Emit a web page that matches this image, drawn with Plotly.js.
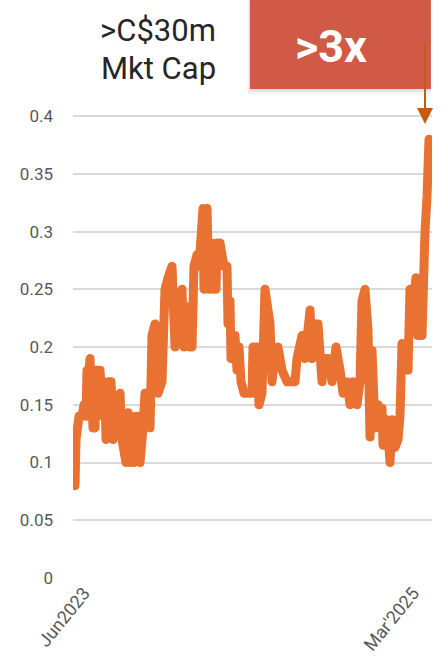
<!DOCTYPE html>
<html>
<head>
<meta charset="utf-8">
<script src="https://cdn.plot.ly/plotly-3.0.1.min.js"></script>
<style>
html,body{margin:0;padding:0;background:#fff;}
#chart{width:448px;height:671px;}
.js-line{stroke-linejoin:round;stroke-linecap:round;}
</style>
</head>
<body>
<div id="chart"></div>
<script>
// time index (approx. 1.86 calendar days per step from Jun 2023)
var tIndex = [0,2,3,6,9,11,13,14,15,17,18,20,22,23,27,28,30,32,33,35,38,39,40,43,45,47,49,51,53,55,57,59,61,64,66,67,70,72,75,77,79,82,84,85,89,92,95,99,102,105,107,109,111,113,115,117,119,121,124,126,128,130,131,133,134,136,139,141,143,144,147,149,151,154,155,157,158,160,162,164,166,168,171,174,177,179,180,184,186,189,192,195,197,199,202,205,209,214,219,222,224,227,229,232,234,237,239,242,245,247,249,250,255,259,263,267,270,274,277,280,284,287,289,292,295,297,299,302,305,307,309,310,314,317,319,322,325,327,329,332,335,337,340,343,345,349,350,352,354,356];
var price  = [0.09,0.08,0.12,0.14,0.14,0.15,0.14,0.18,0.17,0.19,0.13,0.13,0.13,0.18,0.18,0.14,0.14,0.16,0.12,0.17,0.17,0.15,0.12,0.14,0.16,0.16,0.12,0.10,0.10,0.143,0.10,0.14,0.10,0.14,0.12,0.10,0.13,0.16,0.16,0.13,0.21,0.22,0.18,0.16,0.17,0.25,0.26,0.27,0.20,0.23,0.21,0.25,0.20,0.23,0.235,0.20,0.20,0.27,0.28,0.27,0.31,0.32,0.25,0.30,0.32,0.25,0.29,0.25,0.25,0.29,0.29,0.28,0.27,0.27,0.22,0.24,0.19,0.21,0.21,0.18,0.20,0.17,0.16,0.16,0.16,0.16,0.20,0.20,0.15,0.16,0.25,0.23,0.22,0.17,0.195,0.20,0.18,0.17,0.17,0.17,0.19,0.20,0.21,0.19,0.21,0.232,0.19,0.22,0.22,0.19,0.17,0.19,0.19,0.17,0.20,0.18,0.16,0.17,0.15,0.17,0.15,0.17,0.24,0.25,0.215,0.122,0.197,0.13,0.15,0.13,0.147,0.115,0.137,0.10,0.137,0.113,0.12,0.14,0.203,0.20,0.18,0.25,0.235,0.26,0.21,0.21,0.28,0.30,0.33,0.38];
var xTickVals = [11, 340];
var xTickText = ["Jun2023", "Mar'2025"];
var yTickVals = [0,0.05,0.1,0.15,0.2,0.25,0.3,0.35,0.4];
var yTickText = ["0","0.05","0.1","0.15","0.2","0.25","0.3","0.35","0.4"];
var titleLines = [">C$30m", "Mkt Cap"];
var badgeText = ">3x";

var trace = {
  x: tIndex, y: price, type: 'scatter', mode: 'lines',
  line: {color: '#E97132', width: 9},
  hoverinfo: 'skip', showlegend: false
};

var layout = {
  width: 448, height: 671,
  margin: {l: 73, r: 16, t: 93, b: 93},
  paper_bgcolor: '#ffffff', plot_bgcolor: '#ffffff',
  font: {family: 'Roboto, Arial, sans-serif', color: '#595959', size: 17},
  xaxis: {
    range: [0, 359], showgrid: false, zeroline: false, showline: false,
    tickmode: 'array', tickvals: xTickVals, ticktext: xTickText,
    tickangle: -51, ticks: '', tickfont: {size: 18, color: '#595959'},
    fixedrange: true
  },
  yaxis: {
    range: [0, 0.42], showgrid: true, gridcolor: '#d9d9d9', gridwidth: 2,
    zeroline: false, showline: false,
    tickmode: 'array', tickvals: yTickVals, ticktext: yTickText,
    ticks: '', ticklabelstandoff: 19, tickfont: {size: 17, color: '#595959'},
    fixedrange: true
  },
  shapes: [
    {type: 'rect', xref: 'paper', yref: 'paper', x0: 0.486, x1: 0.995, y0: 0.998, y1: 1.19,
     fillcolor: 'rgba(0,0,0,0.05)', line: {width: 0}, layer: 'above'},
    {type: 'rect', xref: 'paper', yref: 'paper', x0: 0.490, x1: 0.997, y0: 1.003, y1: 1.195,
     fillcolor: 'rgba(0,0,0,0.07)', line: {width: 0}, layer: 'above'},
    {type: 'rect', xref: 'paper', yref: 'paper', x0: 0.493, x1: 0.997, y0: 1.008, y1: 1.2,
     fillcolor: '#D05A46', line: {width: 0}, layer: 'above'}
  ],
  annotations: [
    {xref: 'paper', yref: 'paper', x: 0.404, y: 1.128, xanchor: 'right', yanchor: 'middle',
     text: titleLines[0], showarrow: false, font: {size: 31, color: '#262626', family: 'Roboto, Arial, sans-serif'}},
    {xref: 'paper', yref: 'paper', x: 0.404, y: 1.051, xanchor: 'right', yanchor: 'middle',
     text: titleLines[1], showarrow: false, font: {size: 31, color: '#262626', family: 'Roboto, Arial, sans-serif'}},
    {xref: 'paper', yref: 'paper', x: 0.7187, y: 1.095, xanchor: 'center', yanchor: 'middle',
     text: '<b>' + badgeText + '</b>', showarrow: false, font: {size: 45, color: '#ffffff', family: 'Roboto, Arial, sans-serif'}},
    {xref: 'paper', yref: 'paper', x: 0.9805, y: 0.936, ax: 0, ay: -83, axref: 'pixel', ayref: 'pixel',
     text: '', showarrow: true, arrowhead: 2, arrowsize: 1.6, arrowwidth: 2, arrowcolor: '#C55A11'}
  ]
};

Plotly.newPlot('chart', [trace], layout, {displayModeBar: false, staticPlot: true});
</script>
</body>
</html>
